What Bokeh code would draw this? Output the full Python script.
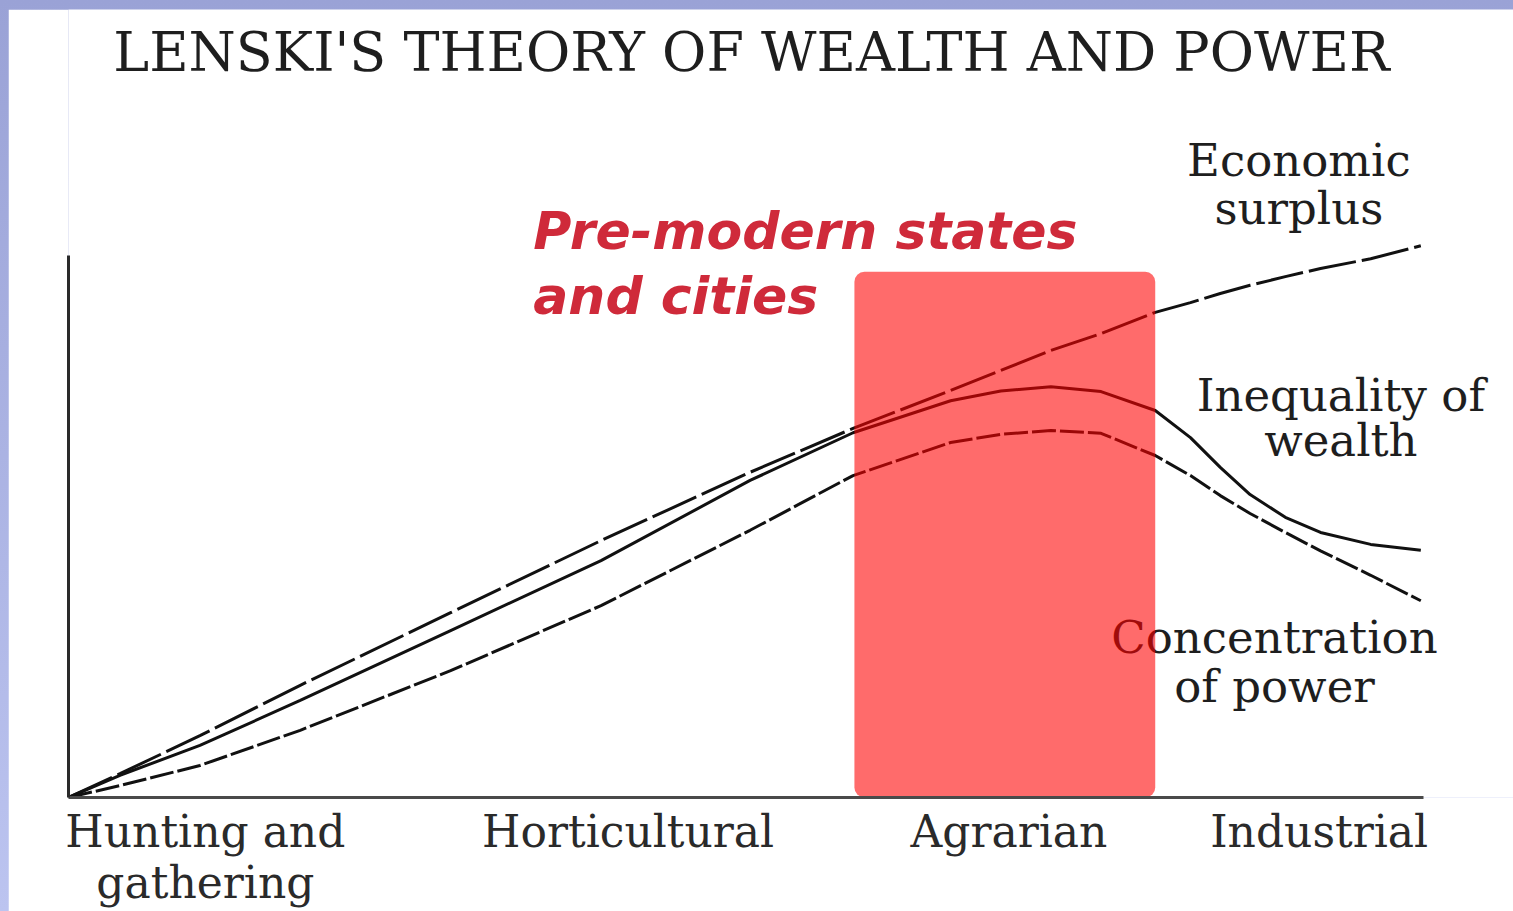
from bokeh.plotting import figure
from bokeh.models import Range1d, FixedTicker
from bokeh.layouts import column
from bokeh.core.properties import value
from bokeh.embed import file_html
from bokeh.resources import INLINE

# ---- data (stage units on x, relative level on y) ----
stage_x = [0, 0.38, 0.97, 1.71, 2.82, 3.93, 5.03, 5.79, 6.51, 6.88, 7.25, 7.62,
           8.02, 8.28, 8.50, 8.72, 8.98, 9.24, 9.61, 9.98]
economic_surplus = [0, 0.44, 1.14, 2.07, 3.41, 4.74, 6.00, 6.81, 7.51, 7.88, 8.25, 8.56,
                    8.95, 9.13, 9.30, 9.45, 9.61, 9.76, 9.94, 10.18]
inequality_of_wealth = [0, 0.41, 0.96, 1.79, 3.08, 4.37, 5.85, 6.73, 7.32, 7.50, 7.58, 7.49,
                        7.14, 6.64, 6.09, 5.59, 5.17, 4.89, 4.67, 4.56]
concentration_of_power = [0, 0.22, 0.59, 1.24, 2.34, 3.54, 4.93, 5.94, 6.55, 6.70, 6.77, 6.72,
                          6.31, 5.94, 5.57, 5.24, 4.89, 4.55, 4.10, 3.63]

stage_names = ["Hunting and\ngathering", "Horticultural", "Agrarian", "Industrial"]
stage_pos = [1.01, 4.13, 6.94, 9.23]

highlight_start, highlight_end, highlight_top = 5.8, 8.02, 9.7

series_labels = ["Economic", "surplus", "Inequality of", "wealth", "Concentration", "of power"]
series_label_x = [9.08, 9.08, 9.39, 9.39, 8.90, 8.90]
series_label_y = [11.75, 10.87, 7.42, 6.59, 2.95, 2.05]

note_lines = ["Pre-modern states", "and cities"]
note_x = [3.43, 3.43]
note_y = [10.46, 9.26]

title_text = "LENSKI'S THEORY OF WEALTH AND POWER"

# ---- figure ----
p = figure(width=1505, height=902, output_backend="svg", toolbar_location=None,
           x_range=Range1d(0, 10.664), y_range=Range1d(0, 14.539),
           min_border_left=60, min_border_right=0, min_border_top=0, min_border_bottom=114,
           background_fill_color="white", border_fill_color="white", outline_line_color=None)
p.margin = (9, 0, 0, 8)
p.grid.visible = False

# axes
p.yaxis.bounds = (0, 10)
p.yaxis.axis_line_width = 3
p.yaxis.axis_line_color = "#2a2a2a"
p.yaxis.major_tick_line_color = None
p.yaxis.minor_tick_line_color = None
p.yaxis.major_label_text_font_size = "0px"
p.yaxis.ticker = FixedTicker(ticks=[])

p.xaxis.bounds = (0, 10)
p.xaxis.axis_line_width = 3
p.xaxis.axis_line_color = "#4a4a4a"
p.xaxis.major_tick_line_color = None
p.xaxis.minor_tick_line_color = None
p.xaxis.ticker = FixedTicker(ticks=stage_pos)
p.xaxis.major_label_overrides = {pos: name for pos, name in zip(stage_pos, stage_names)}
p.xaxis.major_label_text_font = "DejaVu Serif"
p.xaxis.major_label_text_font_size = "44px"
p.xaxis.major_label_text_color = "#2a2a2a"
p.xaxis.major_label_text_line_height = 1.0
p.xaxis.major_label_standoff = 2

# curves
p.line(stage_x, economic_surplus, line_color="#111111", line_width=3, line_dash="48 6")
p.line(stage_x, inequality_of_wealth, line_color="#111111", line_width=3)
p.line(stage_x, concentration_of_power, line_color="#111111", line_width=3, line_dash="24 4")

# series labels
p.text(series_label_x, series_label_y, text=series_labels, text_font=value("DejaVu Serif"),
       text_font_size="45px", text_color="#1e1e1e", text_align="center", text_baseline="middle")

# highlighted period
p.quad(left=[highlight_start], right=[highlight_end], bottom=[0], top=[highlight_top],
       fill_color="#ff0000", fill_alpha=0.58, line_color=None, border_radius=10)

# note
p.text(note_x, note_y, text=note_lines, text_font=value("DejaVu Sans"), text_font_style="bold italic",
       text_font_size="52px", text_color="#cf2a3a", text_align="left", text_baseline="middle")

# title
p.text([5.04], [13.75], text=[title_text], text_font=value("DejaVu Serif"),
       text_font_size="54px", text_color="#1e1e1e", text_align="center", text_baseline="middle")

layout = column(p, styles={"background": "linear-gradient(#9aa2d6, #bcc4f0)"})

open("out.html", "w").write(file_html(layout, INLINE))
